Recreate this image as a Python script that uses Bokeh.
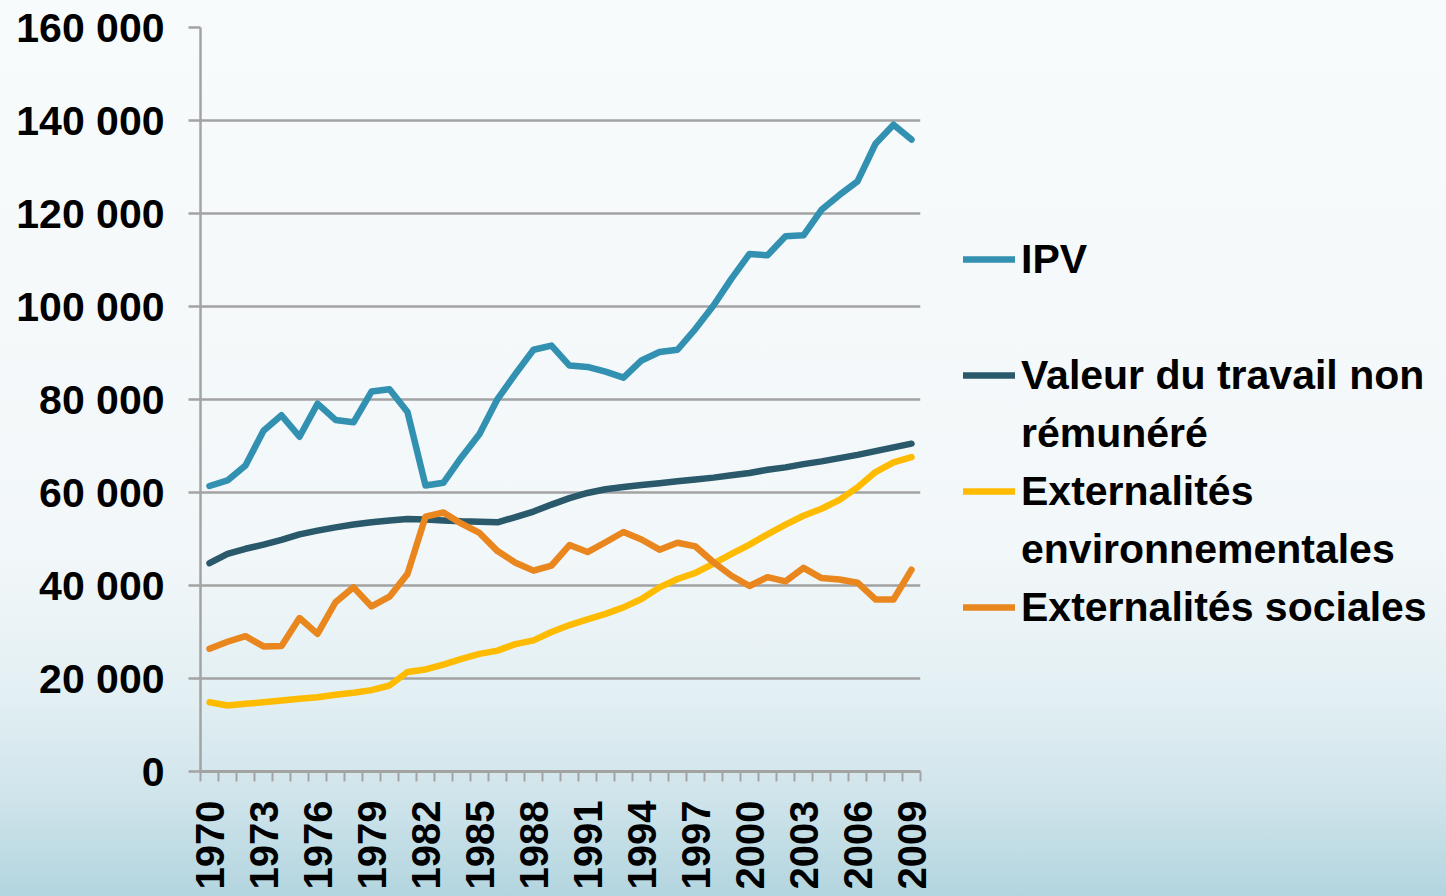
import math
from bokeh.plotting import figure
from bokeh.layouts import row
from bokeh.models import FixedTicker, Legend, LegendItem, Range1d
from bokeh.embed import file_html
from bokeh.resources import INLINE

years = list(range(1970, 2010))

ipv = [61400, 62600, 65800, 73300, 76600, 72000, 79100, 75600, 75100, 81700,
       82200, 77300, 61500, 62100, 67600, 72600, 80100, 85500, 90700, 91600,
       87300, 87000, 86000, 84700, 88400, 90200, 90700, 95200, 100200, 106000,
       111300, 111000, 115100, 115300, 120800, 124000, 126900, 135000, 139100, 135900]

travail = [44800, 46800, 47900, 48800, 49800, 51000, 51800, 52500, 53100, 53600,
           54000, 54300, 54200, 54000, 53800, 53700, 53600, 54700, 55900, 57400,
           58800, 59900, 60700, 61200, 61600, 62000, 62400, 62800, 63200, 63700,
           64200, 64900, 65400, 66100, 66700, 67400, 68100, 68900, 69700, 70500]

env = [14900, 14200, 14550, 14900, 15270, 15630, 15980, 16500, 16950, 17500,
       18490, 21400, 21950, 23000, 24200, 25300, 26000, 27400, 28200, 30000,
       31500, 32700, 33900, 35300, 37100, 39600, 41400, 42700, 44700, 46800,
       48800, 51000, 53100, 55000, 56500, 58400, 61100, 64400, 66500, 67600]

sociales = [26400, 27900, 29100, 26900, 27000, 33000, 29600, 36400, 39600, 35500,
            37600, 42500, 54800, 55700, 53300, 51300, 47400, 44900, 43200, 44300,
            48700, 47200, 49300, 51500, 49900, 47700, 49200, 48400, 45000, 42100,
            39900, 41800, 40900, 43800, 41600, 41300, 40600, 37000, 37000, 43400]

# legend labels: (first line, second line or None)
series_names = [("IPV", None),
                ("Valeur du travail non", "rémunéré"),
                ("Externalités", "environnementales"),
                ("Externalités sociales", None)]
series_colors = ["#3290b1", "#29596a", "#ffbb00", "#e9861e"]

x_label_years = list(range(1970, 2010, 3))
y_ticks = [0, 20000, 40000, 60000, 80000, 100000, 120000, 140000, 160000]
y_labels = ["0", "20 000", "40 000", "60 000", "80 000", "100 000",
            "120 000", "140 000", "160 000"]

FONT = "Liberation Sans"
GRID = "#a3a3a3"
BG = ("linear-gradient(to bottom, #f8fbfc 0%, #f2f7f9 62%, #e2eff3 78%, "
      "#cfe4eb 89%, #b3d5df 100%)")

all_series = [ipv, travail, env, sociales]

# ---------------- main chart ----------------
p = figure(width=934, height=896, output_backend="svg", toolbar_location=None,
           x_range=(1969.5, 2009.5), y_range=(0, 160000),
           min_border_left=200, min_border_right=14,
           min_border_top=27, min_border_bottom=125,
           styles={"background": BG})
p.border_fill_alpha = 0
p.background_fill_alpha = 0
p.outline_line_color = None

# y axis
p.yaxis.ticker = FixedTicker(ticks=y_ticks)
p.yaxis.major_label_overrides = {t: l for t, l in zip(y_ticks, y_labels)}
p.yaxis.axis_line_color = GRID
p.yaxis.axis_line_width = 2.5
p.yaxis.major_tick_line_color = GRID
p.yaxis.major_tick_line_width = 2.5
p.yaxis.major_tick_out = 12
p.yaxis.major_tick_in = 0
p.yaxis.minor_tick_line_color = None
p.yaxis.major_label_standoff = 24
p.yaxis.major_label_text_font = FONT
p.yaxis.major_label_text_font_style = "bold"
p.yaxis.major_label_text_font_size = "41px"
p.yaxis.major_label_text_color = "#000000"

# x axis
p.xaxis.ticker = FixedTicker(ticks=x_label_years,
                             minor_ticks=[y - 0.5 for y in years] + [years[-1] + 0.5])
p.xaxis.axis_line_color = GRID
p.xaxis.axis_line_width = 3
p.xaxis.major_tick_out = 0
p.xaxis.major_tick_in = 0
p.xaxis.minor_tick_line_color = GRID
p.xaxis.minor_tick_line_width = 2
p.xaxis.minor_tick_out = 10
p.xaxis.minor_tick_in = 0
p.xaxis.major_label_orientation = math.pi / 2
p.xaxis.major_label_standoff = 19
p.xaxis.major_label_text_font = FONT
p.xaxis.major_label_text_font_style = "bold"
p.xaxis.major_label_text_font_size = "40px"
p.xaxis.major_label_text_color = "#000000"

p.xgrid.visible = False
p.ygrid.grid_line_color = GRID
p.ygrid.grid_line_width = 2.5

for vals, col in zip(all_series, series_colors):
    p.line(years, vals, line_color=col, line_width=6.5,
           line_cap="round", line_join="round")

# ---------------- legend panel (right) ----------------
q = figure(width=512, height=896, output_backend="svg", toolbar_location=None,
           x_range=Range1d(0, 1), y_range=Range1d(0, 1),
           min_border_left=0, min_border_right=0, min_border_top=0, min_border_bottom=0,
           styles={"background": BG})
q.border_fill_alpha = 0
q.background_fill_alpha = 0
q.outline_line_color = None
q.axis.visible = False
q.grid.visible = False

# legend proxies: same series, outside this panel's (empty) view
blank = q.line(x=[], y=[], line_alpha=0)
items = []
for i, ((first, second), vals, col) in enumerate(zip(series_names, all_series, series_colors)):
    r = q.line(years, vals, line_color=col, line_width=6.5, line_cap="round")
    items.append(LegendItem(label=first, renderers=[r]))
    if second is not None:
        items.append(LegendItem(label=second, renderers=[blank]))
    elif i == 0:
        items.append(LegendItem(label=" ", renderers=[blank]))

legend = Legend(items=items, location=(29, 139),
                background_fill_alpha=0, border_line_alpha=0,
                label_text_font=FONT, label_text_font_style="bold",
                label_text_font_size="41px", label_text_color="#000000",
                glyph_width=52, glyph_height=50, label_height=50,
                label_standoff=6, spacing=8, padding=0, margin=0)
q.add_layout(legend)

layout = row(p, q, spacing=0)
open("out.html", "w").write(file_html(layout, INLINE))
